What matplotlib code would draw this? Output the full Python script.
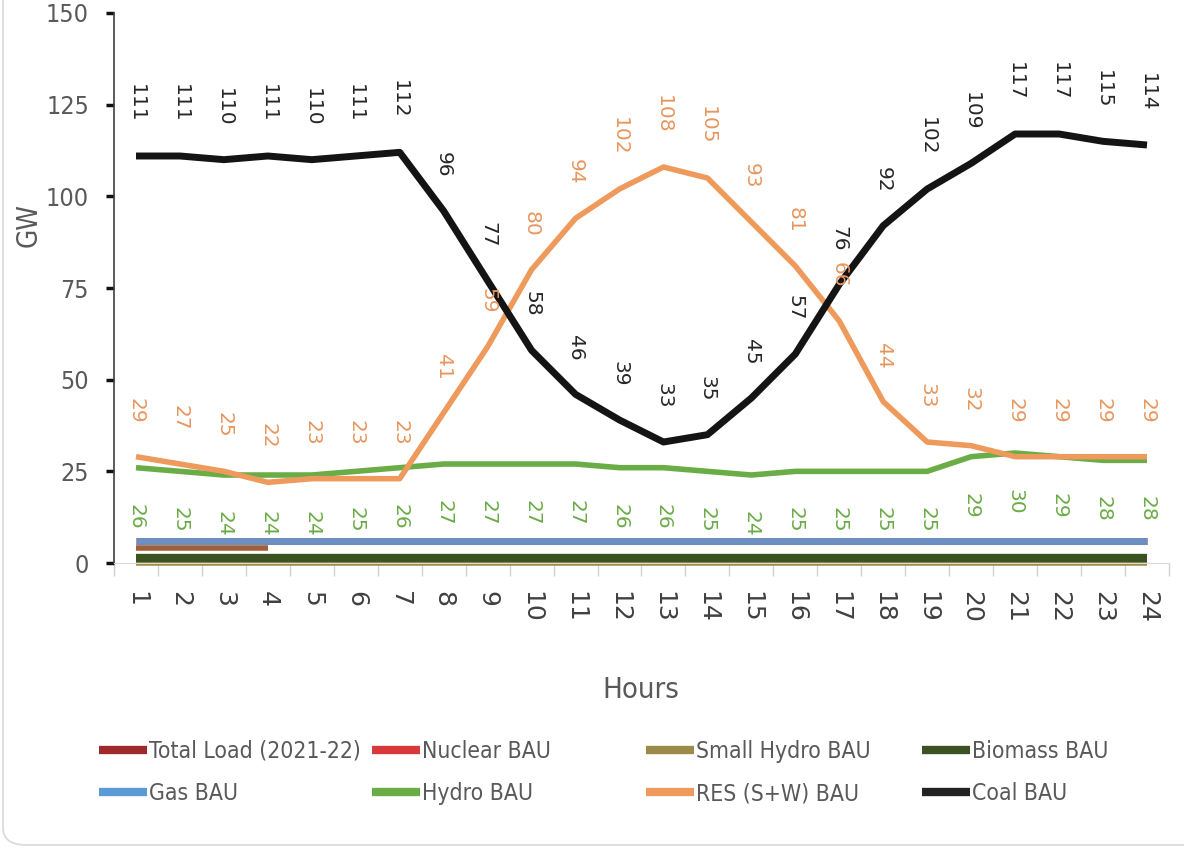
#!/usr/bin/env python
"""Hourly generation dispatch by source, BAU case."""

import matplotlib

matplotlib.use("Agg")
import matplotlib.pyplot as plt
from matplotlib import font_manager
from matplotlib.lines import Line2D
from matplotlib.patches import FancyBboxPatch

HOURS = list(range(1, 25))

COAL = [111, 111, 110, 111, 110, 111, 112, 96, 77, 58, 46, 39,
        33, 35, 45, 57, 76, 92, 102, 109, 117, 117, 115, 114]
RES = [29, 27, 25, 22, 23, 23, 23, 41, 59, 80, 94, 102,
       108, 105, 93, 81, 66, 44, 33, 32, 29, 29, 29, 29]
HYDRO = [26, 25, 24, 24, 24, 25, 26, 27, 27, 27, 27, 26,
         26, 25, 24, 25, 25, 25, 25, 29, 30, 29, 28, 28]
GAS = [6, 6, 6, 6, 6, 6, 6, 6, 6, 6, 6, 6,
       6, 6, 6, 6, 6, 6, 6, 6, 6, 6, 6, 6]
NUCLEAR = [6, 6, 6, 6, 6, 6, 6, 6, 6, 6, 6, 6,
           6, 6, 6, 6, 6, 6, 6, 6, 6, 6, 6, 6]
BIOMASS = [1.5, 1.5, 1.5, 1.5, 1.5, 1.5, 1.5, 1.5, 1.5, 1.5, 1.5, 1.5,
           1.5, 1.5, 1.5, 1.5, 1.5, 1.5, 1.5, 1.5, 1.5, 1.5, 1.5, 1.5]
SMALL_HYDRO = [0, 0, 0, 0, 0, 0, 0, 0, 0, 0, 0, 0,
               0, 0, 0, 0, 0, 0, 0, 0, 0, 0, 0, 0]
TOTAL_LOAD = [4, 4, 4, 4]

Y_TICKS = [0, 25, 50, 75, 100, 125, 150]

COLORS = {
    "load": "#9e2a2b",
    "nuclear": "#d9383a",
    "small_hydro": "#9c8a4b",
    "biomass": "#3b5323",
    "gas": "#6a8fc0",
    "hydro": "#6aac46",
    "res": "#ee9a5c",
    "coal": "#141414",
}

available = {f.name for f in font_manager.fontManager.ttflist}
if "Liberation Sans Narrow" in available:
    NARROW = {"family": "Liberation Sans Narrow"}
else:
    NARROW = {"family": "DejaVu Sans", "stretch": "condensed"}

fig = plt.figure(figsize=(11.84, 8.55), dpi=100)
ax = fig.add_axes([0.0963, 0.3415, 0.8910, 0.6433])

# chart frame (mostly cropped in the source)
frame = FancyBboxPatch((3 / 1184, 10 / 855), 1.2, 1.2, boxstyle="round,pad=0,rounding_size=0.02",
                       transform=fig.transFigure, facecolor="none", edgecolor="#d9d9d9",
                       linewidth=1.2, clip_on=False)
fig.patches.append(frame)

ax.plot(HOURS, SMALL_HYDRO, color=COLORS["small_hydro"], lw=4, solid_capstyle="butt", clip_on=False)
ax.plot(HOURS[:len(TOTAL_LOAD)], TOTAL_LOAD, color="#a0603a", lw=4, solid_capstyle="butt")
ax.plot(HOURS, BIOMASS, color=COLORS["biomass"], lw=6, solid_capstyle="butt")
ax.plot(HOURS, NUCLEAR, color=COLORS["nuclear"], lw=5, solid_capstyle="butt")
ax.plot(HOURS, GAS, color=COLORS["gas"], lw=5, solid_capstyle="butt")
ax.plot(HOURS, HYDRO, color=COLORS["hydro"], lw=4, solid_capstyle="butt")
ax.plot(HOURS, RES, color=COLORS["res"], lw=4, solid_capstyle="butt")
ax.plot(HOURS, COAL, color=COLORS["coal"], lw=5, solid_capstyle="butt")


def label_points(values, color, above=True):
    for hour, value in zip(HOURS, values):
        ax.annotate(str(value), (hour, value), xytext=(0, 24 if above else -26),
                    textcoords="offset points", rotation=-90, ha="center",
                    va="bottom" if above else "top", color=color, fontsize=14.5)


label_points(COAL, "#262626")
label_points(RES, "#e8965e")
label_points(HYDRO, "#6aac46", above=False)

ax.set_xlim(0.5, 24.5)
ax.set_ylim(0, 150)
ax.set_yticks(Y_TICKS)
ax.set_yticklabels([str(t) for t in Y_TICKS], color="#595959", fontsize=18, **NARROW)
ax.set_xticks(HOURS)
ax.set_xticklabels([str(h) for h in HOURS], rotation=-90, color="#404040", fontsize=18)
ax.set_xticks([h + 0.5 for h in range(0, 25)], minor=True)

ax.tick_params(axis="y", direction="out", length=6, width=2.5, color="#111111", pad=12)
ax.tick_params(axis="x", which="major", length=0, pad=20)
ax.tick_params(axis="x", which="minor", length=9, width=1, color="#d0d0d0")

for side in ("top", "right"):
    ax.spines[side].set_visible(False)
ax.spines["left"].set_color("#404040")
ax.spines["left"].set_linewidth(1.2)
ax.spines["bottom"].set_color("#d9d9d9")

ax.set_ylabel("GW", color="#595959", fontsize=20, **NARROW)
ax.yaxis.set_label_coords(-0.068, 0.615)
ax.set_xlabel("Hours", color="#595959", fontsize=21, **NARROW)
ax.xaxis.set_label_coords(0.499, -0.205)

legend_cols = [
    [("Total Load (2021-22)", COLORS["load"]), ("Gas BAU", "#5b9bd5")],
    [("Nuclear BAU", COLORS["nuclear"]), ("Hydro BAU", COLORS["hydro"])],
    [("Small Hydro BAU", COLORS["small_hydro"]), ("RES (S+W) BAU", COLORS["res"])],
    [("Biomass BAU", COLORS["biomass"]), ("Coal BAU", "#222222")],
]
col_x = [99, 372, 646, 922]
for x_px, entries in zip(col_x, legend_cols):
    handles = [Line2D([], [], color=c, lw=6, solid_capstyle="butt") for _, c in entries]
    labels = [name for name, _ in entries]
    fig.legend(handles, labels, loc="upper left", bbox_to_anchor=(x_px / 1184, 1 - 740 / 855),
               frameon=False, borderpad=0, borderaxespad=0, handlelength=2.1,
               handletextpad=0.08, labelspacing=0.85, labelcolor="#595959",
               prop={"size": 16.5, **NARROW})

fig.savefig("out.png", dpi=100)
